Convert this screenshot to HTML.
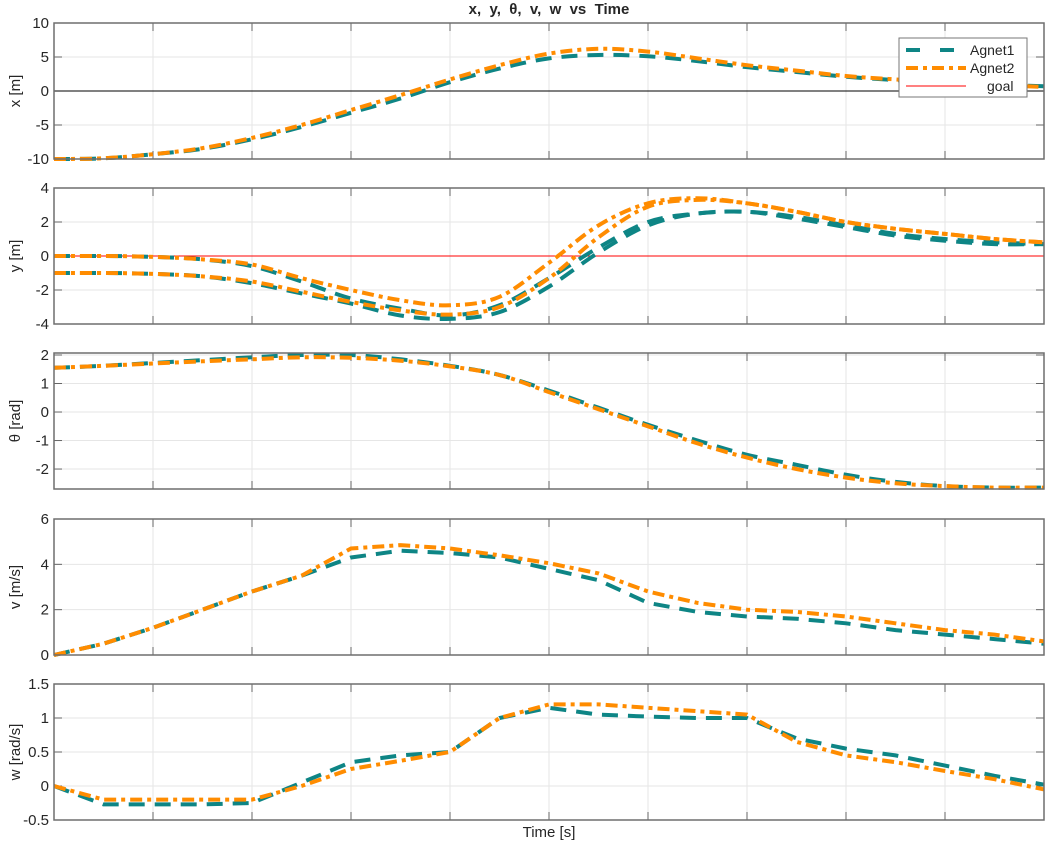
<!DOCTYPE html>
<html><head><meta charset="utf-8"><style>
body{margin:0;background:#fff;}
svg text{font-family:"Liberation Sans",sans-serif;fill:#262626;}
</style></head><body>
<svg id="chart" width="1047" height="843" xmlns="http://www.w3.org/2000/svg"></svg>
<script>
const time = [0,0.5,1,1.5,2,2.5,3,3.5,4,4.5,5,5.5,6,6.5,7,7.5,8,8.5,9,9.5,10];
const xA1 = [-10,-9.9,-9.3,-8.5,-7.1,-5.3,-3.2,-1.1,1.3,3.3,4.8,5.3,5.1,4.4,3.5,2.8,2.1,1.6,1.2,0.9,0.7];
const xA2 = [-10,-9.9,-9.3,-8.4,-6.9,-5.0,-2.8,-0.6,1.7,3.8,5.5,6.2,5.8,4.8,3.8,3.0,2.2,1.7,1.3,0.9,0.6];
const yA1a = [0,0,-0.05,-0.2,-0.6,-1.5,-2.5,-3.1,-3.5,-2.9,-1.3,0.5,2.0,2.5,2.6,2.2,1.7,1.2,0.9,0.7,0.7];
const yA1b = [-1,-1,-1.05,-1.2,-1.6,-2.2,-2.8,-3.5,-3.7,-3.3,-1.8,0.2,1.8,2.5,2.6,2.3,1.8,1.3,1.0,0.8,0.7];
const yA2a = [0,0,-0.05,-0.2,-0.5,-1.3,-2.0,-2.6,-2.9,-2.4,-0.4,1.8,3.1,3.4,3.1,2.6,2.0,1.6,1.3,1.0,0.8];
const yA2b = [-1,-1,-1.05,-1.2,-1.5,-2.1,-2.7,-3.2,-3.45,-3.0,-1.3,1.1,2.9,3.3,3.1,2.6,2.0,1.6,1.3,1.0,0.8];
const thA1 = [1.55,1.62,1.72,1.82,1.92,2.0,2.0,1.85,1.62,1.3,0.75,0.15,-0.45,-1.0,-1.5,-1.85,-2.2,-2.45,-2.6,-2.65,-2.65];
const thA2 = [1.55,1.62,1.7,1.78,1.85,1.92,1.9,1.8,1.6,1.3,0.7,0.1,-0.5,-1.1,-1.6,-2.0,-2.3,-2.5,-2.6,-2.65,-2.65];
const vA1 = [0,0.5,1.2,2.0,2.8,3.5,4.3,4.6,4.5,4.3,3.8,3.3,2.3,1.9,1.7,1.6,1.4,1.1,0.9,0.7,0.5];
const vA2 = [0,0.5,1.2,2.0,2.8,3.5,4.7,4.85,4.7,4.4,4.05,3.6,2.8,2.3,2.0,1.9,1.7,1.4,1.1,0.9,0.6];
const wA1 = [0,-0.27,-0.27,-0.27,-0.25,0.05,0.35,0.45,0.5,1.0,1.15,1.05,1.02,1.0,1.0,0.7,0.55,0.45,0.3,0.15,0.02];
const wA2 = [0,-0.2,-0.2,-0.2,-0.2,0.0,0.25,0.37,0.5,1.0,1.2,1.2,1.15,1.1,1.05,0.65,0.45,0.35,0.22,0.1,-0.05];
const xTicks=[-10,-5,0,5,10], yTicks=[-4,-2,0,2,4], thTicks=[-2,-1,0,1,2], vTicks=[0,2,4,6], wTicks=[-0.5,0,0.5,1,1.5];

const NS="http://www.w3.org/2000/svg", svg=document.getElementById('chart');
function mk(tag,attrs,parent){const e=document.createElementNS(NS,tag);for(const k in attrs)e.setAttribute(k,attrs[k]);(parent||svg).appendChild(e);return e;}
const L=54,R=1044;
const sx=t=>L+(t-0)/10*(R-L);
function smoothPath(pts){let d='M'+pts[0][0].toFixed(1)+','+pts[0][1].toFixed(1);
 for(let i=0;i<pts.length-1;i++){const p0=pts[Math.max(i-1,0)],p1=pts[i],p2=pts[i+1],p3=pts[Math.min(i+2,pts.length-1)];
  const c1=[p1[0]+(p2[0]-p0[0])/6,p1[1]+(p2[1]-p0[1])/6],c2=[p2[0]-(p3[0]-p1[0])/6,p2[1]-(p3[1]-p1[1])/6];
  d+='C'+c1[0].toFixed(1)+','+c1[1].toFixed(1)+' '+c2[0].toFixed(1)+','+c2[1].toFixed(1)+' '+p2[0].toFixed(1)+','+p2[1].toFixed(1);}
 return d;}
const panels=[
 {name:'x',top:23,bot:159,min:-10,max:10,ticks:xTicks,label:'x [m]',s1:[xA1],s2:[xA2],goal:true,smooth:true},
 {name:'y',top:188,bot:324,min:-4,max:4,ticks:yTicks,label:'y [m]',s1:[yA1a,yA1b],s2:[yA2a,yA2b],goal:true,smooth:true},
 {name:'theta',top:353,bot:489,min:-2.7,max:2.07,ticks:thTicks,label:'θ  [rad]',s1:[thA1],s2:[thA2],smooth:true},
 {name:'v',top:519,bot:655,min:0,max:6,ticks:vTicks,label:'v [m/s]',s1:[vA1],s2:[vA2]},
 {name:'w',top:684,bot:820,min:-0.5,max:1.5,ticks:wTicks,label:'w [rad/s]',s1:[wA1],s2:[wA2]}
];
panels.forEach(p=>{
 const sy=v=>p.bot-(v-p.min)/(p.max-p.min)*(p.bot-p.top);
 const g=mk('g',{});
 
 
 for(let i=1;i<10;i++){const x=sx(i);mk('line',{x1:x,x2:x,y1:p.top,y2:p.bot,stroke:'#e6e6e6','stroke-width':1},g);}
 p.ticks.forEach(v=>{const y=sy(v);if(y>p.top+1&&y<p.bot-1)mk('line',{x1:L,x2:R,y1:y,y2:y,stroke:'#e6e6e6','stroke-width':1},g);
  const tx=mk('text',{x:L-5,y:y+5,'text-anchor':'end','font-size':15},g);tx.textContent=v;
  
  mk('line',{x1:L,x2:L+8,y1:y,y2:y,stroke:'#666'},g);mk('line',{x1:R-8,x2:R,y1:y,y2:y,stroke:'#666'},g);});
 for(let i=1;i<10;i++){const x=sx(i);mk('line',{x1:x,x2:x,y1:p.top,y2:p.top+8,stroke:'#666'},g);mk('line',{x1:x,x2:x,y1:p.bot-8,y2:p.bot,stroke:'#666'},g);}
 if(p.goal){const y=sy(0);const gl=mk('line',{x1:L,x2:R,y1:y,y2:y,stroke:p.name==='x'?'#000':'#ff0000','stroke-width':1},g);
  }
 const clipId='c'+p.name;const cp=mk('clipPath',{id:clipId},g);mk('rect',{x:L,y:p.top-3,width:R-L,height:p.bot-p.top+6},cp);
 const draw=(arr,col,dash,nm)=>{const pts=arr.map((v,i)=>[sx(time[i]),sy(v)]);
  const d=p.smooth?smoothPath(pts):pts.map((q,i)=>(i?'L':'M')+q[0].toFixed(1)+','+q[1].toFixed(1)).join('');
  const pa=mk('path',{d:d,fill:'none',stroke:col,'stroke-width':4,'stroke-dasharray':dash,'clip-path':'url(#'+clipId+')'},g);
  };
 p.s1.forEach(a=>draw(a,'#0e8585','16 10','agent1-'+p.name+'-line'));
 p.s2.forEach(a=>draw(a,'#ff8c00','12 5 4 5','agent2-'+p.name+'-line'));
 mk('rect',{x:L,y:p.top,width:R-L,height:p.bot-p.top,fill:'none',stroke:'#6e6e6e','stroke-width':1.5},g);
 const cy=(p.top+p.bot)/2;
 const lb=mk('text',{x:0,y:0,'font-size':15,'text-anchor':'middle',transform:'translate(20,'+cy+') rotate(-90)'},g);
 lb.textContent=p.label;
});
</script>
<svg style="position:absolute;left:0;top:0" width="1047" height="843">
<text x="549" y="14" text-anchor="middle" font-size="15" font-weight="bold">x,&#160; y,&#160; θ,&#160; v,&#160; w&#160; vs&#160; Time</text>
<text x="549" y="837" text-anchor="middle" font-size="15">Time [s]</text>
<g>
<rect x="899" y="38" width="128" height="59" fill="#fff" stroke="#777" stroke-width="1"/>
<line x1="906" y1="50" x2="957" y2="50" stroke="#0e8585" stroke-width="4" stroke-dasharray="14 20"/>
<text x="970" y="55" font-size="14">Agnet1</text>
<line x1="906" y1="68" x2="966" y2="68" stroke="#ff8c00" stroke-width="4" stroke-dasharray="12 5 4 5"/>
<text x="970" y="73" font-size="14">Agnet2</text>
<line x1="906" y1="86" x2="966" y2="86" stroke="#ff0000" stroke-width="1"/>
<text x="987" y="91" font-size="14">goal</text>
</g>
</svg>
</body></html>
